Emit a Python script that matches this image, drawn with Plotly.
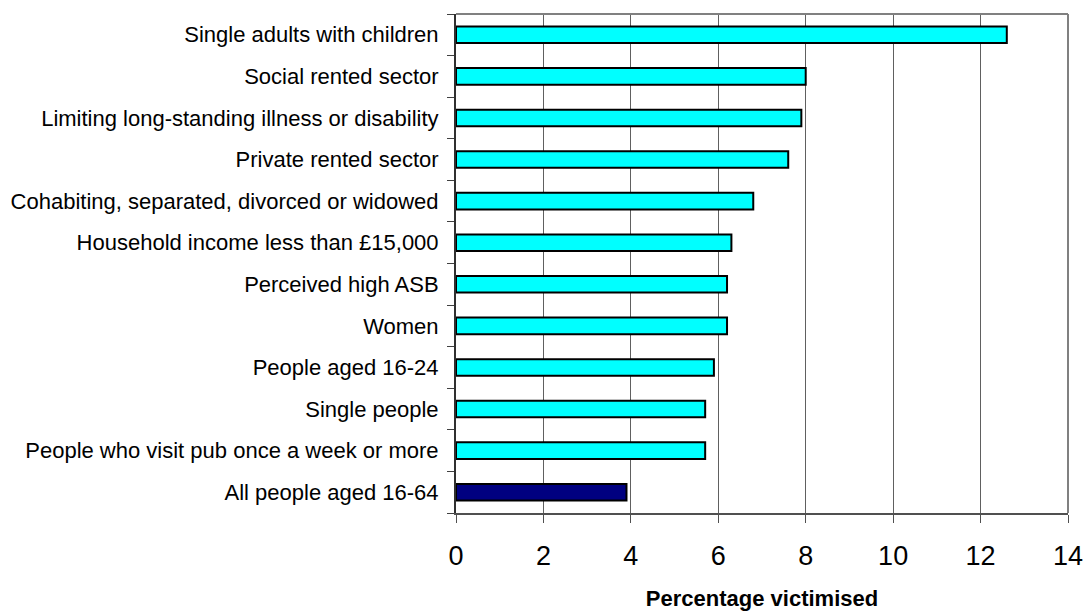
import plotly.graph_objects as go

# Groups and the share of each that was victimised (%)
categories = [
    "Single adults with children",
    "Social rented sector",
    "Limiting long-standing illness or disability",
    "Private rented sector",
    "Cohabiting, separated, divorced or widowed",
    "Household income less than £15,000",
    "Perceived high ASB",
    "Women",
    "People aged 16-24",
    "Single people",
    "People who visit pub once a week or more",
    "All people aged 16-64",
]
values = [12.6, 8.0, 7.9, 7.6, 6.8, 6.3, 6.2, 6.2, 5.9, 5.7, 5.7, 3.9]
x_ticks = [0, 2, 4, 6, 8, 10, 12, 14]

bar_colors = ["#00FFFF"] * (len(categories) - 1) + ["#000080"]

fig = go.Figure(
    go.Bar(
        x=values,
        y=categories,
        orientation="h",
        marker=dict(color=bar_colors, line=dict(color="#000000", width=2)),
        width=0.4,
        hoverinfo="x+y",
    )
)

fig.update_layout(
    width=1087,
    height=614,
    margin=dict(l=456, r=19, t=14, b=101),
    paper_bgcolor="white",
    plot_bgcolor="white",
    font=dict(family="Liberation Sans, Arial, sans-serif", color="#000000"),
    showlegend=False,
    shapes=[
        # grey frame along the top and right of the plot area
        dict(type="line", xref="paper", yref="paper", x0=0, x1=1, y0=1, y1=1,
             line=dict(color="#808080", width=2)),
        dict(type="line", xref="paper", yref="paper", x0=1, x1=1, y0=0, y1=1,
             line=dict(color="#808080", width=2)),
    ],
)

fig.update_xaxes(
    range=[0, 14],
    tickvals=x_ticks,
    ticktext=[str(t) for t in x_ticks],
    tickfont=dict(size=27),
    ticks="outside",
    ticklen=8,
    tickcolor="#505050",
    showline=True,
    linecolor="#505050",
    linewidth=2,
    showgrid=True,
    gridcolor="#606060",
    gridwidth=1,
    zeroline=False,
    automargin=False,
    ticklabelstandoff=10,
    title=dict(text="<b>Percentage victimised</b>", font=dict(size=22), standoff=20),
)

fig.update_yaxes(
    categoryorder="array",
    categoryarray=categories[::-1],
    tickson="boundaries",
    ticks="outside",
    ticklen=7,
    tickcolor="#404040",
    tickfont=dict(size=22),
    showline=True,
    linecolor="#303030",
    linewidth=2,
    showgrid=False,
    zeroline=False,
    automargin=False,
    ticklabelstandoff=11,
)

fig.write_html("out.html")
